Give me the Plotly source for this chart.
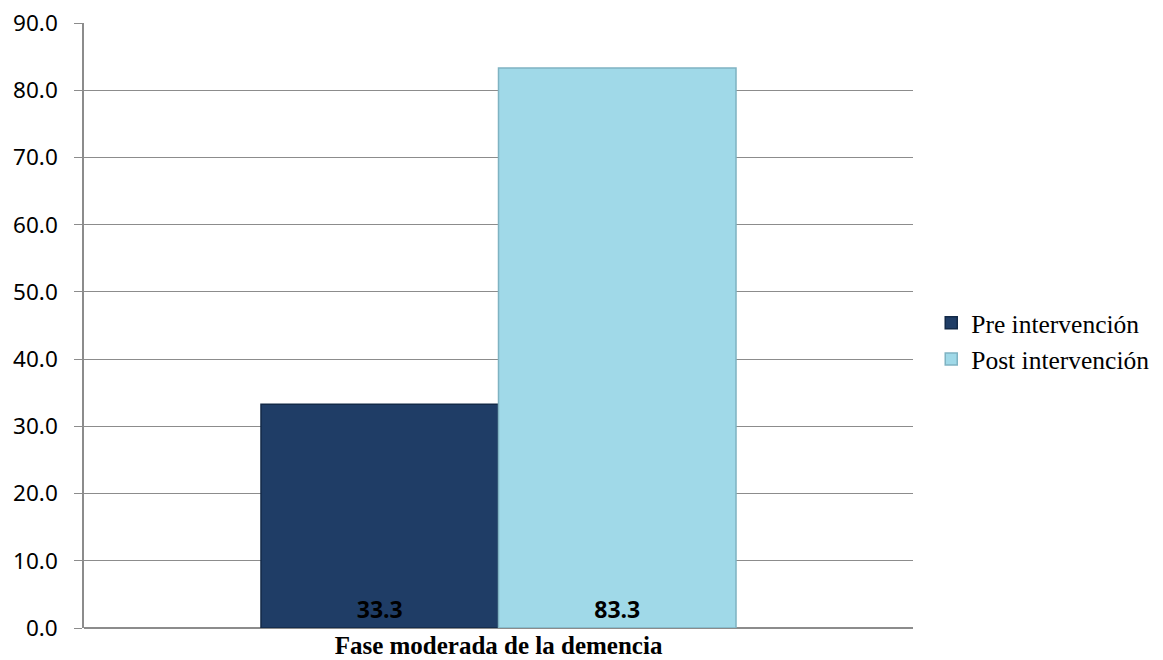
import plotly.graph_objects as go

categories = ["Fase moderada de la demencia"]
pre_values = [33.3]
post_values = [83.3]
series_names = ["Pre intervención", "Post intervención"]
tick_values = [0, 10, 20, 30, 40, 50, 60, 70, 80, 90]
tick_labels = ["0.0", "10.0", "20.0", "30.0", "40.0", "50.0", "60.0", "70.0", "80.0", "90.0"]

colors = ["#1F3D66", "#A0D9E8"]
edge_colors = ["#132a48", "#7fb3c2"]

fig = go.Figure()
for name, vals, col, edge in zip(series_names, [pre_values, post_values], colors, edge_colors):
    fig.add_trace(go.Bar(
        x=categories, y=vals, name=name,
        marker=dict(color=col, line=dict(color=edge, width=1.5)),
        text=[f"{v:.1f}" for v in vals],
        textposition="inside", insidetextanchor="start",
        textfont=dict(family="Open Sans", size=23, color="black", weight="bold"),
        textangle=0,
    ))

fig.update_layout(
    width=1163, height=660,
    margin=dict(l=84, r=250, t=23, b=32, autoexpand=False),
    paper_bgcolor="white", plot_bgcolor="white",
    barmode="group", bargap=0.427, bargroupgap=0,
    showlegend=True,
    legend=dict(
        x=1.022, y=0.474, xanchor="left", yanchor="middle",
        font=dict(family="Liberation Serif", size=25.5, color="black"),
        itemwidth=30,
    ),
    xaxis=dict(
        showline=False, showgrid=False, ticks="", automargin=False,
        tickfont=dict(family="Liberation Serif", size=25, color="black", weight="bold"),
        ticklabelstandoff=0,
    ),
    yaxis=dict(
        range=[0, 90], tickvals=tick_values, ticktext=tick_labels, automargin=False,
        showgrid=True, gridcolor="#8c8c8c", gridwidth=1,
        showline=True, linecolor="#8c8c8c", linewidth=1.5,
        ticks="outside", ticklen=8, tickcolor="#8c8c8c",
        tickfont=dict(family="Noto Sans", size=22.5, color="black"),
        ticklabelstandoff=12,
        zeroline=True, zerolinecolor="#8c8c8c", zerolinewidth=1.5,
    ),
)

fig.write_html("out.html")
